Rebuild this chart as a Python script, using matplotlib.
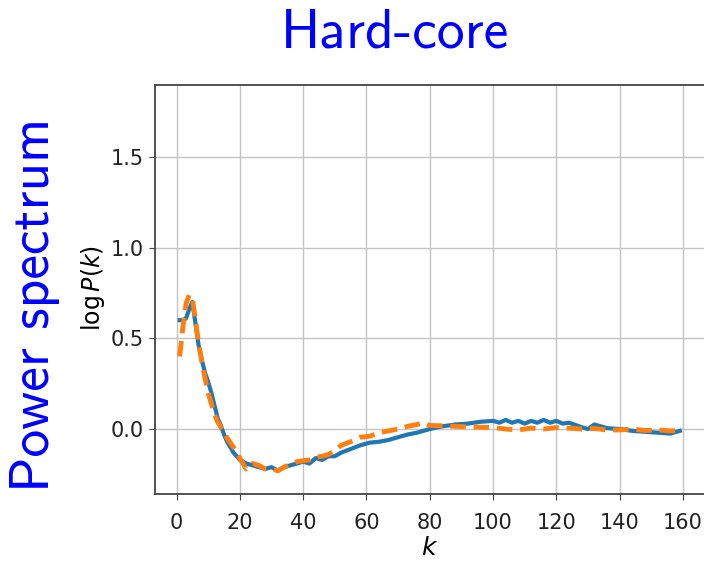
import matplotlib
matplotlib.use('Agg')
import matplotlib.pyplot as plt
import numpy as np

# blue curve (solid)
k_blue = [1, 2, 3, 4, 5, 6, 7, 8, 9, 10, 11, 12, 13, 14, 15, 16, 17, 18, 20, 22,
          24, 26, 28, 30, 32, 34, 36, 38, 40, 42, 44, 46, 48, 50, 52, 55, 58, 61,
          64, 67, 70, 73, 76, 80, 84, 88, 92, 96, 100, 102, 104, 106, 108, 110,
          112, 114, 116, 118, 120, 122, 124, 128, 130, 132, 136, 140, 144, 148,
          152, 156, 159]
p_blue = [0.60, 0.60, 0.61, 0.66, 0.70, 0.58, 0.46, 0.38, 0.31, 0.26, 0.20, 0.13,
          0.06, 0.02, -0.03, -0.07, -0.10, -0.13, -0.17, -0.19, -0.20, -0.21,
          -0.22, -0.21, -0.23, -0.21, -0.20, -0.19, -0.18, -0.19, -0.16, -0.17,
          -0.15, -0.15, -0.13, -0.11, -0.09, -0.075, -0.07, -0.06, -0.045, -0.03,
          -0.02, 0.0, 0.015, 0.025, 0.03, 0.04, 0.045, 0.035, 0.05, 0.035, 0.045,
          0.03, 0.045, 0.035, 0.05, 0.035, 0.045, 0.03, 0.035, 0.01, 0.0, 0.025,
          0.005, 0.0, -0.01, -0.015, -0.02, -0.025, -0.01]

# orange curve (dashed)
k_orange = [1, 2, 3, 4, 5, 6, 7, 8, 9, 10, 11, 12, 13, 14, 16, 18, 20, 22, 24, 26,
            28, 30, 32, 34, 36, 38, 40, 42, 44, 46, 48, 50, 52, 55, 58, 61, 64, 67,
            70, 73, 76, 78, 80, 84, 88, 92, 96, 100, 104, 108, 112, 116, 120, 124,
            128, 132, 136, 140, 144, 148, 152, 156, 159]
p_orange = [0.40, 0.56, 0.69, 0.74, 0.72, 0.60, 0.47, 0.37, 0.28, 0.20, 0.14, 0.08,
            0.04, 0.01, -0.05, -0.10, -0.16, -0.22, -0.19, -0.20, -0.22, -0.22,
            -0.23, -0.21, -0.195, -0.18, -0.175, -0.17, -0.155, -0.15, -0.14, -0.12,
            -0.09, -0.07, -0.045, -0.04, -0.02, -0.01, 0.0, 0.015, 0.025, 0.035,
            0.02, 0.018, 0.015, 0.012, 0.01, 0.008, 0.0, -0.005, 0.005, 0.0, 0.008,
            0.005, 0.0, 0.003, -0.005, -0.005, 0.0, -0.008, -0.005, -0.01, -0.01]

xticks = [0, 20, 40, 60, 80, 100, 120, 140, 160]
yticks = [0.0, 0.5, 1.0, 1.5]

fig = plt.figure(figsize=(7.04, 5.67), dpi=100)
ax = fig.add_axes([155/704, 1 - 494/567, 549.5/704, (494 - 84.5)/567])

ax.plot(k_blue, p_blue, color='#1f77b4', lw=3)
ax.plot(k_orange, p_orange, color='#ff7f0e', lw=3.5, ls='--', dashes=(3.2, 1.6))

ax.set_xlim(-6.8, 166.8)
ax.set_ylim(-0.358, 1.899)
ax.set_xticks(xticks)
ax.set_yticks(yticks)
ax.set_xticklabels([str(t) for t in xticks], fontsize=15, color='#222222')
ax.set_yticklabels(['%.1f' % t for t in yticks], fontsize=15, color='#222222')
ax.tick_params(axis='x', length=4, pad=10, color='#444444')
ax.tick_params(axis='y', length=4, pad=4, color='#444444')
ax.grid(True, color='#c4c4c4', lw=1)
for s in ax.spines.values():
    s.set_color('#444444')
    s.set_linewidth(1.3)

ax.set_xlabel('$k$', fontsize=18, labelpad=2)
fig.text(93/704, 1 - 288/567, r'$\log P(k)$', rotation=90, ha='center', va='center', fontsize=17)

fig.text(395/704, 1 - 33/567, 'Hard-core', ha='center', va='center',
         fontsize=40, color='#0000ff', family='cmss10')
fig.text(35/704, 1 - 305/567, 'Power spectrum', ha='center', va='center', rotation=90,
         fontsize=40, color='#0000ff', family='cmss10')

fig.savefig('out.png', dpi=100)
